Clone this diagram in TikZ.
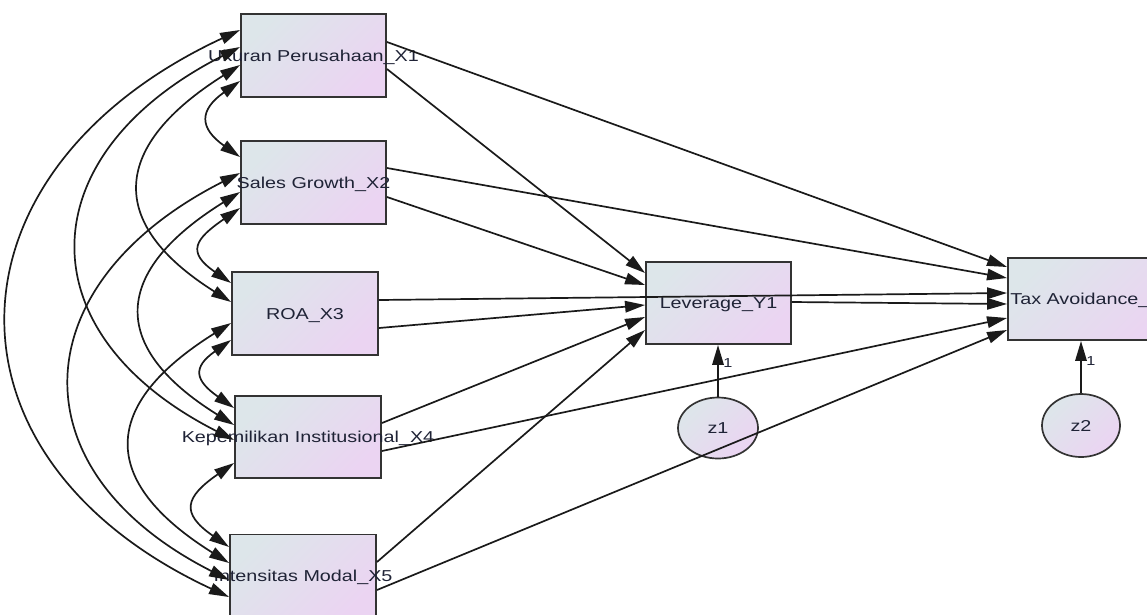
\documentclass[tikz,border=0pt]{standalone}
\usepackage{fontspec}
\newfontfamily\amos[FakeStretch=1.25]{Liberation Sans}
\usetikzlibrary{arrows.meta,shapes.geometric}
\definecolor{fillA}{HTML}{DDE6EA}
\definecolor{fillB}{HTML}{EBD4F2}
\definecolor{edgec}{HTML}{333333}
\definecolor{linec}{HTML}{1A1A1A}
\definecolor{txtc}{HTML}{1F2336}
\begin{document}
\begin{tikzpicture}[x=1pt,y=-1pt,
  obs/.style={rectangle, draw=edgec, line width=1.9pt, top color=fillA, bottom color=fillB,
    shading angle=45, minimum width=145pt, minimum height=83pt, inner sep=0pt,
    text height=11.3pt, text depth=0pt, text=txtc, font=\amos\fontsize{15.8}{18}\selectfont},
  lat/.style={ellipse, draw=edgec, line width=1.7pt, top color=fillA, bottom color=fillB,
    shading angle=45, minimum width=80pt, minimum height=61pt, inner sep=0pt,
    text height=11.3pt, text depth=0pt, text=txtc, font=\amos\fontsize{15.8}{18}\selectfont},
  reg/.style={draw=linec, line width=1.7pt, -{Triangle[length=20pt,width=11.5pt]}},
  cov/.style={draw=linec, line width=1.7pt, {Triangle[length=20pt,width=11.5pt]}-{Triangle[length=20pt,width=11.5pt]}},
  wlab/.style={font=\amos\fontsize{13}{14}\selectfont, text=txtc, inner sep=0pt}]
\useasboundingbox (0,0) rectangle (1147,614);

% observed variables
\node[obs] (x1) at (313.5,55.5) {\makebox[0pt]{Ukuran Perusahaan\_X1}};
\node[obs] (x2) at (313.5,182.5) {\makebox[0pt]{Sales Growth\_X2}};
\node[obs, minimum width=146pt] (x3) at (305,313.5) {\makebox[0pt]{ROA\_X3}};
\node[obs, minimum width=146pt, minimum height=82pt] (x4) at (308,437) {\makebox[0pt]{Kepemilikan Institusional\_X4}};
\node[obs, minimum width=146pt] (x5) at (303,576) {\makebox[0pt]{Intensitas Modal\_X5}};
\node[obs, minimum height=82pt] (y1) at (718.5,303) {\makebox[0pt]{Leverage\_Y1}};
\node[obs, minimum width=167pt, minimum height=82pt] (y2) at (1091.5,299) {\makebox[0pt]{\hspace{1pt}Tax Avoidance\_Y2}};

% residuals
\node[lat] (z1) at (718,428) {z1};
\node[lat, minimum width=78pt, minimum height=63pt] (z2) at (1081,425.5) {z2};
\node[wlab] (l1) at (728,363) {1};
\node[wlab] (l2) at (1091,361) {1};

% regression paths
\draw[reg] ([yshift=13.5pt]x1.east) -- ([yshift=32pt]y2.west);
\draw[reg] ([yshift=-13.5pt]x1.east) -- ([yshift=30pt]y1.west);
\draw[reg] ([yshift=14.5pt]x2.east) -- ([yshift=21pt]y2.west);
\draw[reg] ([yshift=-14.5pt]x2.east) -- ([yshift=18pt]y1.west);
\draw[reg] ([yshift=13.5pt]x3.east) -- ([yshift=6pt]y2.west);
\draw[reg] ([yshift=-14.5pt]x3.east) -- ([yshift=-2pt]y1.west);
\draw[reg] ([yshift=14pt]x4.east) -- ([yshift=-14pt]y1.west);
\draw[reg] ([yshift=-14pt]x4.east) -- ([yshift=-19pt]y2.west);
\draw[reg] ([yshift=14pt]x5.east) -- ([yshift=-27pt]y1.west);
\draw[reg] ([yshift=-14pt]x5.east) -- ([yshift=-31pt]y2.west);
\draw[reg] ([yshift=1pt]y1.east) -- ([yshift=-5pt]y2.west);
\draw[reg] (z1.north) -- (z1.north |- y1.south);
\draw[reg] (z2.north) -- (z2.north |- y2.south);

% covariances
\draw[cov] ([yshift=-25.5pt]x1.west) .. controls +(-41,29) and +(-41,-29) .. ([yshift=25.5pt]x2.west);
\draw[cov] ([yshift=-25.5pt]x2.west) .. controls +(-45,31) and +(-45,-31) .. ([yshift=30.5pt]x3.west);
\draw[cov] ([yshift=-26.5pt]x3.west) .. controls +(-39,27.5) and +(-39,-27.5) .. ([yshift=29pt]x4.west);
\draw[cov] ([yshift=-26pt]x4.west) .. controls +(-49,34) and +(-49,-34) .. ([yshift=29pt]x5.west);
\draw[cov] ([yshift=-9.5pt]x1.west) .. controls +(-127,80) and +(-127,-80) .. ([yshift=11.5pt]x3.west);
\draw[cov] ([yshift=-9.5pt]x2.west) .. controls +(-127,79) and +(-127,-79) .. ([yshift=12pt]x4.west);
\draw[cov] ([yshift=-9.5pt]x3.west) .. controls +(-131,82) and +(-131,-82) .. ([yshift=13pt]x5.west);
\draw[cov] ([yshift=8.5pt]x1.west) .. controls +(-211,107) and +(-211,-107) .. ([yshift=-3pt]x4.west);
\draw[cov] ([yshift=9.5pt]x2.west) .. controls +(-217,110) and +(-217,-110) .. ([yshift=-4pt]x5.west);
\draw[cov] ([yshift=25.5pt]x1.west) .. controls +(-301,140) and +(-301,-140) .. ([yshift=-21pt]x5.west);
\end{tikzpicture}
\end{document}
